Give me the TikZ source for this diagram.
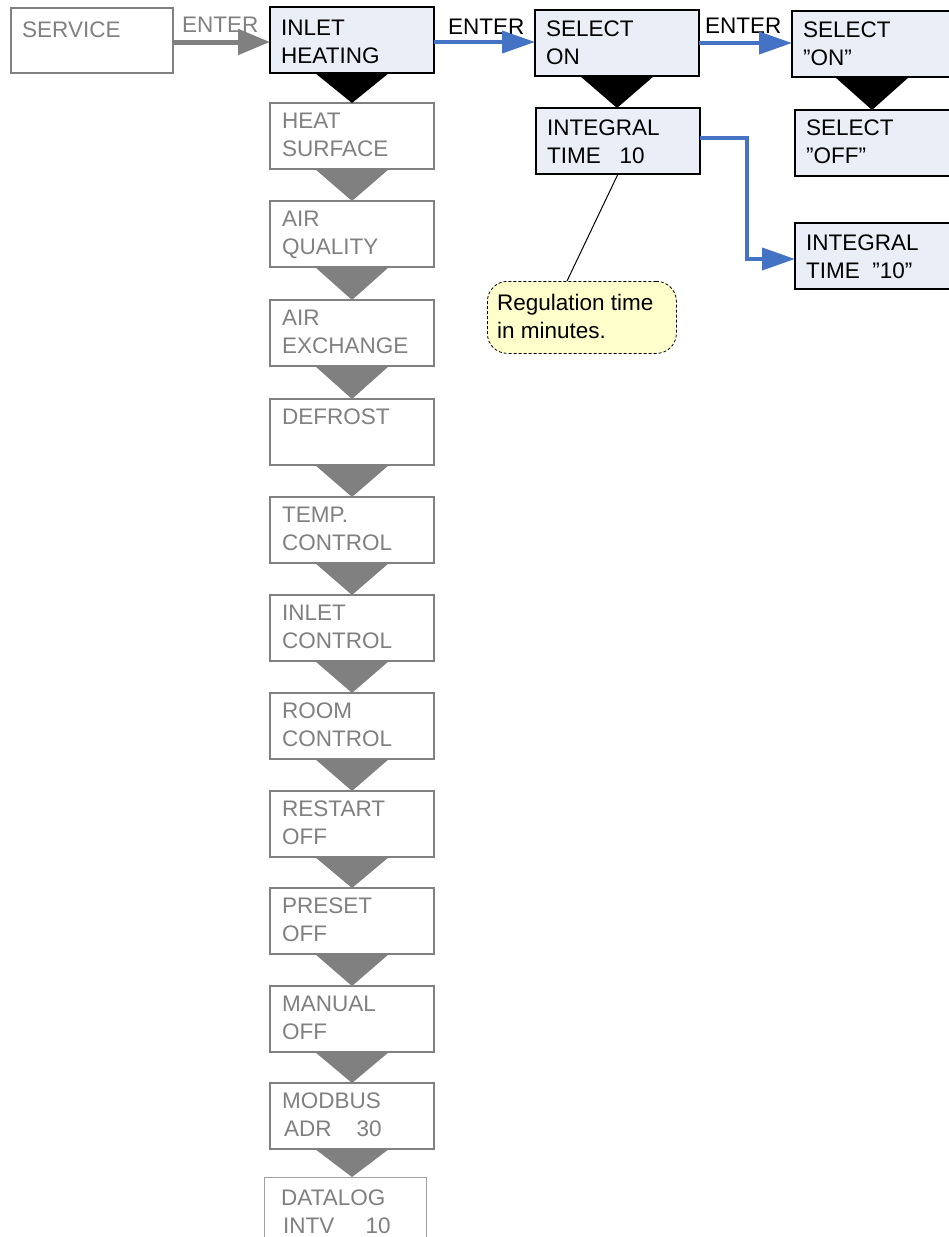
\documentclass[tikz,border=0pt]{standalone}
\usepackage{fontspec}
\setmainfont{Liberation Sans}
\usetikzlibrary{arrows.meta,calc}
\definecolor{gtext}{RGB}{128,128,128}
\definecolor{gline}{RGB}{128,128,128}
\definecolor{lline}{RGB}{160,160,160}
\definecolor{bfill}{RGB}{233,238,247}
\definecolor{blueone}{RGB}{68,114,196}
\definecolor{notefill}{RGB}{255,255,204}
\newcommand\mylines[1]{\begin{tabular}[t]{@{}l@{}}#1\end{tabular}}
\begin{document}
\begin{tikzpicture}[x=1pt,y=-1pt,
  font=\fontsize{22.5}{28}\selectfont,
  box/.style={rectangle, anchor=north west, inner sep=0pt, outer sep=0pt, minimum width=164pt, minimum height=66pt},
  gbox/.style={box, draw=gline, line width=2pt, fill=white},
  bbox/.style={box, draw=black, line width=2.5pt, fill=bfill},
  gtxt/.style={anchor=base west, inner sep=0pt, text=gtext},
  btxt/.style={anchor=base west, inner sep=0pt, text=black},
  gtri/.style={fill=gline},
  btri/.style={fill=black},
  garrow/.style={draw=gline, line width=5pt, -{Triangle[length=32pt,width=25pt]}},
  barrow/.style={draw=blueone, line width=4pt, -{Triangle[length=33pt,width=22pt]}},
  notebox/.style={rectangle, anchor=north west, draw=black, line width=0.8pt, dash pattern=on 3pt off 2pt, rounded corners=20pt, fill=notefill, minimum width=189pt, minimum height=72pt, inner sep=0pt},
]
\useasboundingbox (0,0) rectangle (949,1237);
\clip (0,0) rectangle (949,1237);

% top row
\node[gbox, minimum width=162pt, minimum height=65pt] (svc) at (11,8) {};
\node[gtxt] (svct) at (22,37) {SERVICE};
\node[bbox] (ih) at (270,7) {};
\node[btxt] (iht) at (281,35) {\mylines{INLET\\HEATING}};
\node[bbox] (son) at (535,10) {};
\node[btxt] (sont) at (546,36) {\mylines{SELECT\\ON}};
\node[bbox] (it) at (536,108) {};
\node[btxt] (itt) at (547,135) {\mylines{INTEGRAL\\TIME\ \ \ 10}};
\node[bbox, minimum width=180pt] (sq) at (792,11) {};
\node[btxt] (sqt) at (803,37) {\mylines{SELECT\\”ON”}};
\node[bbox, minimum width=180pt] (soff) at (795,110) {};
\node[btxt] (sofft) at (806,135) {\mylines{SELECT\\”OFF”}};
\node[bbox, minimum width=180pt] (itq) at (795,223) {};
\node[btxt] (itqt) at (806,250) {\mylines{INTEGRAL\\TIME\ \ ”10"}};

% column
\foreach \n/\t/\txt in {hs/103/{HEAT\\SURFACE}, aq/201/{AIR\\QUALITY}, ax/300/{AIR\\EXCHANGE}, df/399/{DEFROST}, tc/497/{TEMP.\\CONTROL}, ic/595/{INLET\\CONTROL}, rc/693/{ROOM\\CONTROL}, rs/791/{RESTART\\OFF}, ps/888/{PRESET\\OFF}, mn/986/{MANUAL\\OFF}, mb/1083/{MODBUS\\\hspace*{2pt}ADR\ \ \ \ 30}}{
  \node[gbox] (\n) at (270,\t) {};
  \node[gtxt] (\n t) at (282,\t+25) {\mylines{\txt}};
}
\node[box, draw=lline, line width=1pt, fill=white, minimum width=162pt, minimum height=80pt] (dl) at (264,1177) {};
\node[gtxt] (dlt) at (281,1205) {\mylines{DATALOG\\\hspace*{2pt}INTV\ \ \ \ \ 10}};

% triangles
\fill[btri] ($(ih.south)+(-37,0)$) -- ($(ih.south)+(37,0)$) -- (hs.north) -- cycle;
\foreach \a/\b in {hs/aq, aq/ax, ax/df, df/tc, tc/ic, ic/rc, rc/rs, rs/ps, ps/mn, mn/mb, mb/dl}{
  \fill[gtri] ($(\a.south)+(-37,0)$) -- ($(\a.south)+(37,0)$) -- (\a.south |- \b.north) -- cycle;
}
\fill[btri] ($(son.south)+(-37,0)$) -- ($(son.south)+(37,0)$) -- (son.south |- it.north) -- cycle;
\coordinate (sqb) at ($(sq.south west)+(80,0)$);
\fill[btri] ($(sqb)+(-37,0)$) -- ($(sqb)+(37,0)$) -- (sqb |- soff.north) -- cycle;

% arrows
\node[gtxt] (e1) at (182,32) {ENTER};
\draw[garrow] ($(svc.east)+(0,1.5)$) -- ($(svc.east -| ih.west)+(0,1.5)$);
\node[btxt] (e2) at (448,34) {ENTER};
\draw[barrow] ($(ih.east)+(0,2)$) -- ($(ih.east -| son.west)+(0,2)$);
\node[btxt] (e3) at (705,33) {ENTER};
\draw[barrow] (son.east) -- (son.east -| sq.west);
\draw[barrow] ($(it.east)+(0,-3)$) -- ($(it.east)+(47,-3)$) |- ($(itq.west)+(0,3)$);

% note
\node[notebox] (note) at (487,281) {};
\node[btxt] (notet) at (497,310) {\mylines{Regulation time\\in minutes.}};
\draw[line width=1pt] ($(note.north west)+(80,0)$) -- ($(it.south west)+(82,0)$);
\end{tikzpicture}
\end{document}
